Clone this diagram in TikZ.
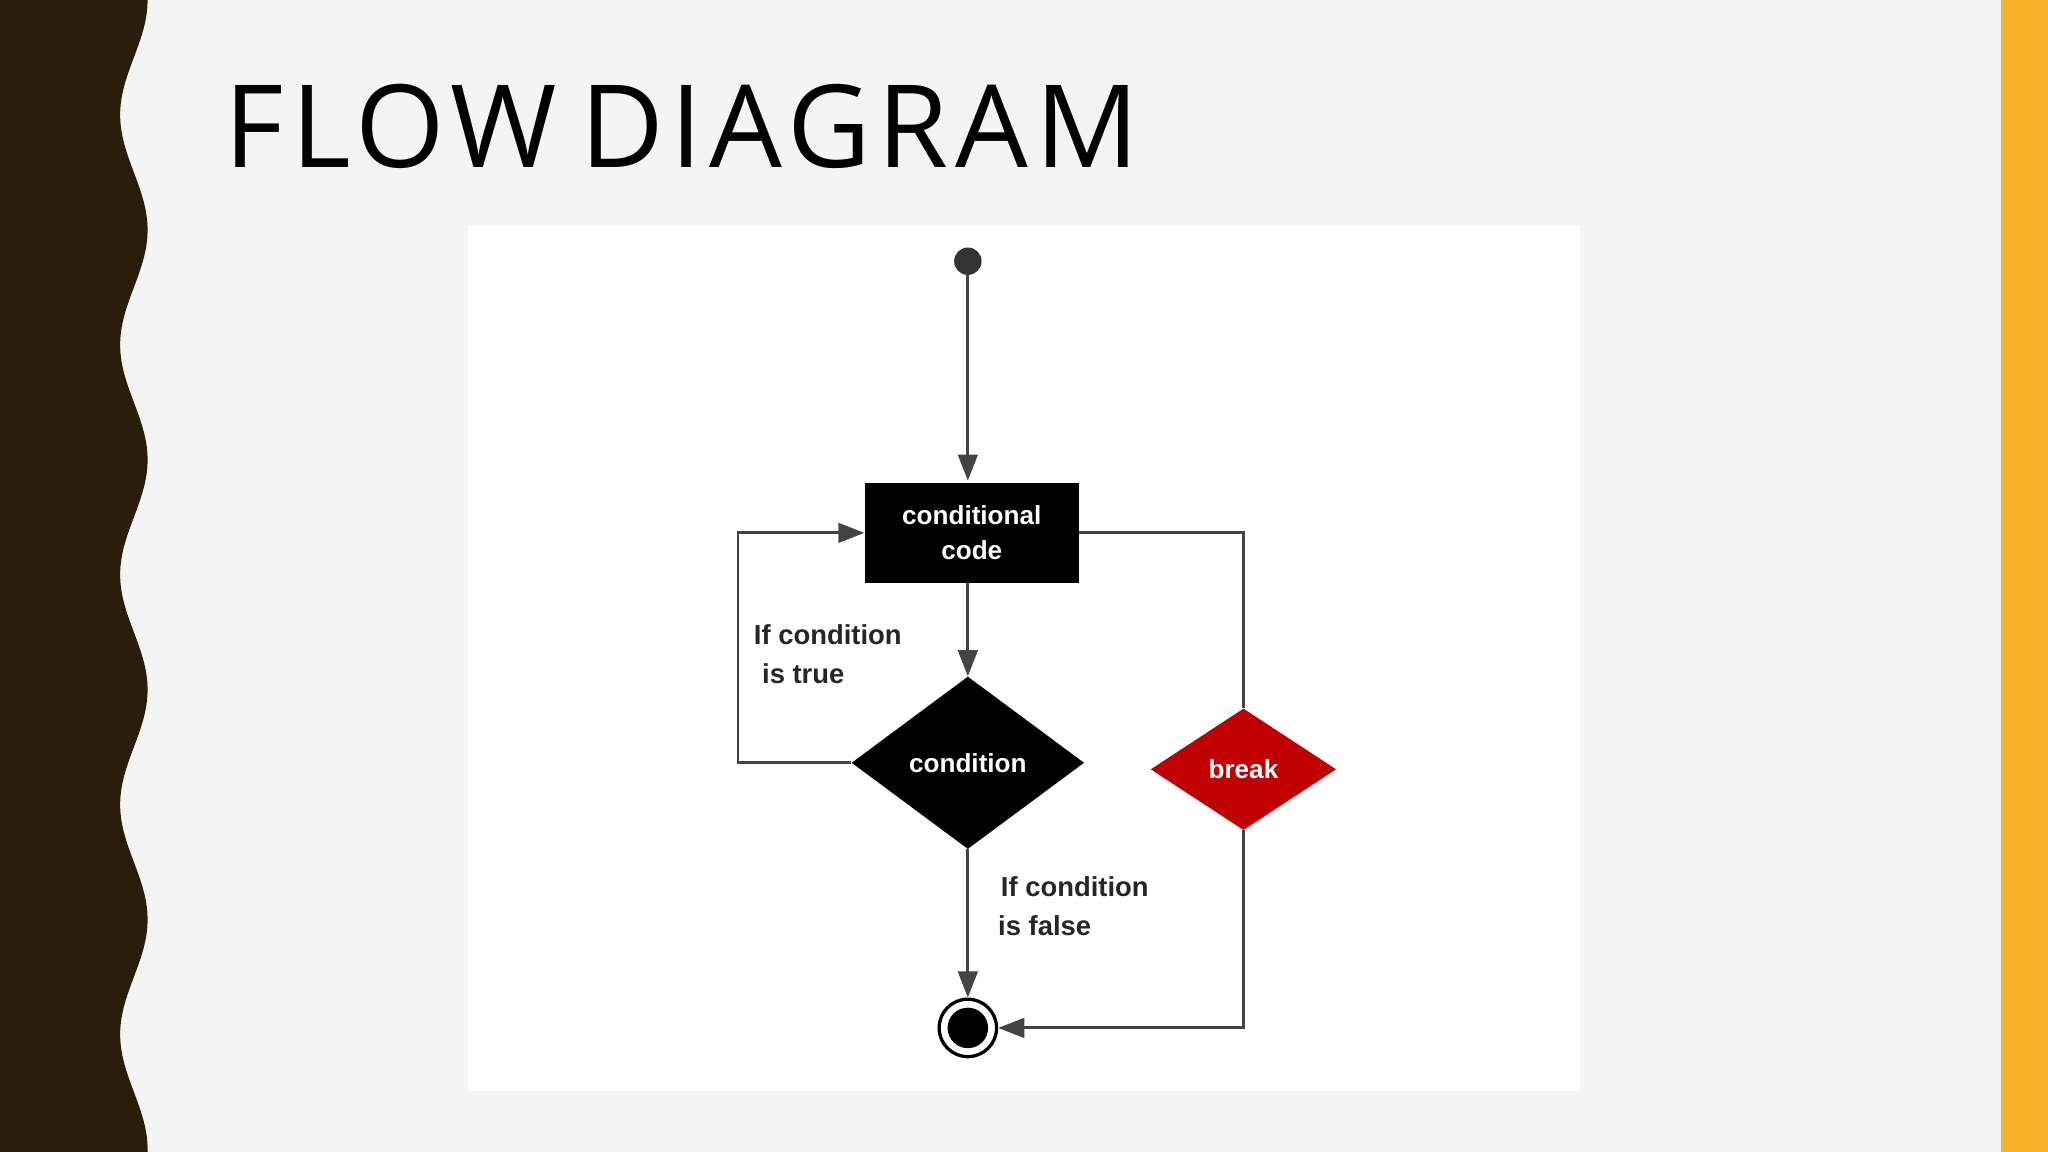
\documentclass[tikz,border=0pt]{standalone}
\usepackage{fontspec}
\setmainfont{Liberation Sans}
\newfontfamily\titlefont[LetterSpace=6]{Open Sans}
\usetikzlibrary{arrows.meta,shapes.geometric}
\definecolor{bgc}{HTML}{F4F4F5}
\definecolor{brownc}{HTML}{2B1D0C}
\definecolor{orangec}{HTML}{F9B02A}
\definecolor{linec}{HTML}{444444}
\definecolor{redc}{HTML}{C00000}
\tikzset{
  conn/.style={draw=linec,line width=2.2pt},
  arr/.style={conn,-{Triangle[length=20pt,width=15pt]}},
  lbl/.style={font=\fontsize{21}{30}\selectfont\bfseries,text=black!85,align=left,inner sep=0pt},
  wtxt/.style={font=\fontsize{20}{27}\selectfont\bfseries,text=white,align=center}
}
\begin{document}
\begin{tikzpicture}[x=1pt,y=-1pt]
\useasboundingbox (0,0) rectangle (1568,882);
\fill[bgc] (0,0) rectangle (1568,882);
\fill[orangec] (1532,0) rectangle (1568,882);
\fill[brownc] (0,0) -- plot[domain=0:882,samples=200,smooth] ({102.5-10.5*cos(2.04545*(\x-88))},\x) -- (0,882) -- cycle;
\node[anchor=base west,font=\titlefont\fontsize{88}{90}\selectfont,inner sep=0pt] (title) at (172,128) {FLOW\hspace{0.2em}DIAGRAM};
\fill[white] (358,172) rectangle (1210,835);
\node[circle,fill=black!80,minimum size=21pt,inner sep=0pt] (start) at (741,200) {};
\node[fill=black,minimum width=164pt,minimum height=76pt,wtxt] (code) at (744,408) {conditional\\code};
\node[diamond,fill=black,minimum width=178pt,minimum height=132pt,inner sep=0pt,wtxt] (cond) at (741,584) {condition};
\node[diamond,fill=redc,minimum width=142pt,minimum height=93pt,inner sep=0pt,wtxt] (brk) at (952,589) {break};
\node[circle,draw=black,line width=2.5pt,fill=white,minimum size=44pt,inner sep=0pt] (endo) at (741,787) {};
\node[circle,fill=black,minimum size=31pt,inner sep=0pt] (endi) at (endo) {};
\draw[arr] (start) -- (741,368);
\draw[arr] (741,446) -- (cond.north);
\coordinate (lb) at (565,584);
\coordinate (lt) at (565,408);
\draw[arr] (cond.west) -- (lb) -- (lt) -- (code.west);
\coordinate (rt) at (952,408);
\draw[conn] (code.east) -- (rt) -- (brk.north);
\coordinate (rb) at (952,787);
\draw[arr] (brk.south) -- (rb) -- (endo.east);
\draw[arr] (cond.south) -- (endo.north);
\node[lbl,anchor=north west] (tl) at (577,478) {If condition\\\hspace{0.3em}is true};
\node[lbl,anchor=north west] (fl) at (764,671) {\hspace{0.1em}If condition\\is false};
\end{tikzpicture}
\end{document}
